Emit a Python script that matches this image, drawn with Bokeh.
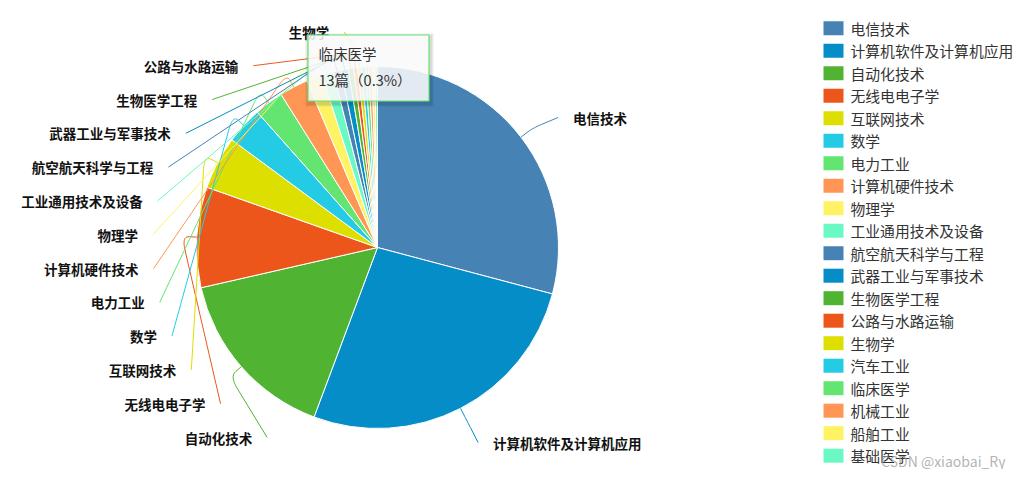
import numpy as np
from bokeh.plotting import figure
from bokeh.models import Range1d, ColumnDataSource
from bokeh.core.properties import value
from bokeh.embed import file_html
from bokeh.resources import INLINE

# ---------------- data ----------------
categories = ["电信技术", "计算机软件及计算机应用", "自动化技术", "无线电电子学", "互联网技术",
              "数学", "电力工业", "计算机硬件技术", "物理学", "工业通用技术及设备",
              "航空航天科学与工程", "武器工业与军事技术", "生物医学工程", "公路与水路运输", "生物学",
              "汽车工业", "临床医学", "机械工业", "船舶工业", "基础医学"]
counts = [1250, 1140, 675, 385, 203, 142, 112, 110, 61, 44,
          30, 28, 20, 16, 15, 14, 13, 12, 11, 10]
palette = ["#4682B4", "#058DC7", "#50B432", "#ED561B", "#DDDF00",
           "#24CBE5", "#64E572", "#FF9655", "#FFF263", "#6AF9C4"]
unit = "篇"
tooltip_category = "临床医学"
watermark = "CSDN @xiaobai_Ry"

FONT = value("Noto Sans CJK SC")

# ---------------- layout ----------------
W, H = 1013, 469
IMG_H = 477
def dy(img_y):
    return IMG_H - img_y

p = figure(width=W, height=H, output_backend="svg", toolbar_location=None,
           x_range=Range1d(0, W), y_range=Range1d(IMG_H - H, IMG_H),
           x_axis_type=None, y_axis_type=None, min_border=0)
p.grid.visible = False
p.outline_line_color = None
p.background_fill_color = "white"
p.border_fill_color = "white"

cx, cy, r = 377.0, dy(247), 181.0
vals = np.array(counts, dtype=float)
total = vals.sum()
frac = vals / total
cum = np.concatenate([[0.0], np.cumsum(frac)])
start = np.pi / 2 - 2 * np.pi * cum[:-1]
end = np.pi / 2 - 2 * np.pi * cum[1:]
colors = [palette[i % len(palette)] for i in range(len(categories))]

src = ColumnDataSource(dict(cat=categories, val=counts, start=start, end=end, color=colors))
p.wedge(x=cx, y=cy, radius=r, start_angle="start", end_angle="end", direction="clock",
        fill_color="color", line_color="white", line_width=1, source=src)

# ---------------- labels with leader lines ----------------
mid = 2 * np.pi * (cum[:-1] + cum[1:]) / 2   # clockwise from top
rA, rB, L1, gap = 225.0, 218.0, 15.0, 15.0
label_rows = {}
for k, i in enumerate(range(2, 15)):
    label_rows[i] = dy(437) + 33.8 * k
label_rows[0] = dy(117)
label_rows[1] = dy(442)

xs, ys, lc, tx, ty, tt, ta = [], [], [], [], [], [], []
for i, ly in label_rows.items():
    th = mid[i]
    side = 1 if np.sin(th) > 0 else -1
    p0 = np.array([cx + r * np.sin(th), cy + r * np.cos(th)])
    p1 = np.array([cx + (r + L1) * np.sin(th), cy + (r + L1) * np.cos(th)])
    ddy = ly - cy
    ex = cx + side * rA * np.sqrt(max(0.0, 1 - (ddy / rB) ** 2))
    p2 = np.array([ex, ly])
    a = p1 + (p0 - p1) * 0.5
    seg = np.linalg.norm(p2 - p1)
    b = p1 + (p2 - p1) * min(0.35, 14.0 / max(seg, 1e-6))
    t = np.linspace(0, 1, 12)[:, None]
    curve = (1 - t) ** 2 * a + 2 * (1 - t) * t * p1 + t ** 2 * b
    pts = np.vstack([p0, curve, p2])
    xs.append(list(pts[:, 0])); ys.append(list(pts[:, 1])); lc.append(colors[i])
    tx.append(ex + side * gap); ty.append(ly); tt.append(categories[i])
    ta.append("left" if side > 0 else "right")

p.multi_line(xs=xs, ys=ys, line_color=lc, line_width=1)
p.text(x=tx, y=ty, text=tt, text_align=ta, text_baseline="middle",
       text_font=FONT, text_font_size="13.5px", text_font_style="bold", text_color="#111111")

# ---------------- legend ----------------
lx0, ly0, lstep = 833.0, dy(27.7), 22.5
leg_y = [ly0 - lstep * i for i in range(len(categories))]
p.rect(x=[lx0] * len(categories), y=leg_y, width=20, height=14, fill_color=colors, line_color=None)
p.text(x=[lx0 + 17] * len(categories), y=leg_y, text=categories, text_align="left",
       text_baseline="middle", text_font=FONT, text_font_size="14.8px", text_color="#333333")

# ---------------- tooltip ----------------
ti = categories.index(tooltip_category)
pct = counts[ti] / total * 100
bl, br, bt, bb = 307.5, 428.5, dy(34.5), dy(100.5)
for s, a_ in [(4, 0.04), (3, 0.05), (2, 0.06)]:
    p.quad(left=bl - s + 1, right=br + s + 1, top=bt + s - 2, bottom=bb - s - 2,
           fill_color="black", fill_alpha=a_, line_color=None)
p.quad(left=bl, right=br, top=bt, bottom=bb, fill_color="white", fill_alpha=0.86,
       line_color=colors[ti], line_width=1.2)
p.text(x=[318, 318], y=[dy(53), dy(79)],
       text=[tooltip_category, f"{counts[ti]}{unit}（{pct:.1f}%）"],
       text_align="left", text_baseline="middle", text_font=FONT, text_font_size="14.5px",
       text_color="#333333")

# ---------------- watermark ----------------
p.text(x=[1005], y=[dy(460)], text=[watermark], text_align="right", text_baseline="middle",
       text_font=FONT, text_font_size="14px", text_color="#999999", text_alpha=0.75)

open("out.html", "w").write(file_html(p, INLINE))
